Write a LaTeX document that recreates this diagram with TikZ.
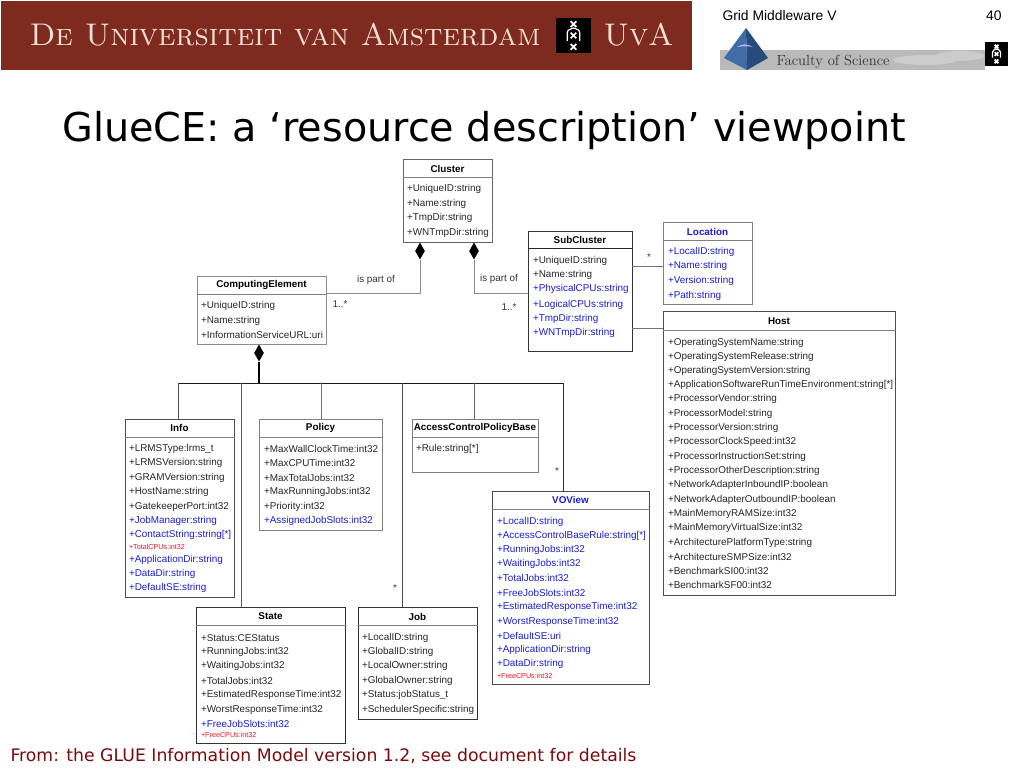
\documentclass[tikz,border=0pt]{standalone}
\usepackage{fontspec}
\usetikzlibrary{shapes.geometric}
\newfontfamily\umlfont{Liberation Sans}
\newfontfamily\slidefont{DejaVu Sans}
\definecolor{bannerred}{RGB}{127,42,31}
\definecolor{bannertext}{RGB}{243,224,212}
\definecolor{attrblue}{RGB}{28,28,205}
\definecolor{attrred}{RGB}{228,20,36}
\definecolor{footred}{RGB}{120,10,14}
\definecolor{pyramidleft}{RGB}{62,110,165}
\definecolor{pyramidright}{RGB}{40,75,125}
\tikzset{every picture/.style={line width=0.75pt}}
\tikzset{
  classbox/.style={draw=#1,fill=white,rectangle,inner sep=0pt},
  classbox/.default={black!70},
  classname/.style={inner sep=0.75pt,font=\umlfont\bfseries\fontsize{7.4}{8}\selectfont},
  attr/.style={anchor=west,inner sep=0.75pt,xshift=-1.1pt,yshift=-0.6pt,text=black!85,font=\umlfont\fontsize{7.43}{8}\selectfont},
  attrnew/.style={attr,text=attrblue},
  attrold/.style={attr,text=attrred,font=\umlfont\fontsize{5.4}{6}\selectfont},
  cardinal/.style={inner sep=0.75pt,text=black!80,font=\umlfont\fontsize{7.4}{8}\selectfont},
  partdiamond/.style={diamond,fill=black,draw=none,inner sep=0pt,minimum width=7.5pt,minimum height=13pt},
  uvashield/.pic={
    \draw [white,line width=1.3pt] (-3,-15) -- (3,-9) (3,-15) -- (-3,-9) ;
    \draw [white,line width=1.3pt] (-3,-3) -- (3,3) (3,-3) -- (-3,3) ;
    \draw [white,line width=1.3pt] (-3,9) -- (3,15) (3,9) -- (-3,15) ;
    \draw [white,line width=0.9pt] (-6.5,-6) -- (-6.5,3) .. controls (-6.5,6) and (-3,7) .. (0,8) .. controls (3,7) and (6.5,6) .. (6.5,3) -- (6.5,-6) ;
  }
}
\begin{document}
\begin{tikzpicture}[x=0.75pt,y=0.75pt,yscale=-1,xscale=1]
\useasboundingbox (0,0) rectangle (1024,768);

%Banner
\fill [bannerred] (1,1) rectangle (692,70);
\node (bannername) [anchor=base west,inner sep=0pt,text=bannertext,font=\scshape\fontsize{23.5}{26}\selectfont] at (29,45) {De Universiteit van Amsterdam};
\node (banneruva) [anchor=base west,inner sep=0pt,text=bannertext,font=\scshape\fontsize{23.5}{26}\selectfont] at (603,45) {UvA};
\fill [black] (556,18) rectangle (591,53);
\pic [scale=0.95] at (573.5,35.5) {uvashield};

%Faculty logo
\fill [black!27] (720,50) rectangle (985,70);
\fill [black!20] (925,60) ellipse (32 and 5);
\fill [black!20] (960,56) ellipse (24 and 5);
\fill [pyramidleft] (746,28) -- (724,58) -- (747,70) -- cycle;
\fill [pyramidright] (746,28) -- (768,58) -- (747,70) -- cycle;
\fill [white!70!blue] (737,47) .. controls (743,43) and (748,44) .. (753,47) .. controls (748,46) and (743,46) .. (737,47) -- cycle;
\node (facultyname) [anchor=base west,inner sep=0pt,text=black!80,font=\fontsize{11}{13}\selectfont] at (776,65) {Faculty of Science};
\fill [black] (985,42) rectangle (1008,66);
\pic [scale=0.62] at (996.5,54) {uvashield};

%Slide header
\node (coursename) [anchor=base west,inner sep=0pt,font=\umlfont\fontsize{10.4}{12}\selectfont] at (722,20) {Grid Middleware V};
\node (slidenumber) [anchor=base east,inner sep=0pt,font=\umlfont\fontsize{10.4}{12}\selectfont] at (1002,20) {40};
\node (slidetitle) [anchor=base west,inner sep=0pt,font=\slidefont\fontsize{29.8}{36}\selectfont] at (62,141) {GlueCE: a ‘resource description’ viewpoint};
\node (slidefoot) [anchor=base west,inner sep=0pt,text=footred,font=\slidefont\fontsize{12.95}{15}\selectfont] at (10,761) {From: the GLUE Information Model version 1.2, see document for details};

%Class boxes
\node (cluster) [classbox=black!60,minimum width=66.75pt,minimum height=62.25pt] at (447.5,200.5) {};
\node (compute) [classbox=black!45,minimum width=96.75pt,minimum height=51pt] at (261.5,310) {};
\node (subcluster) [classbox=black!80,minimum width=78pt,minimum height=90pt] at (580,291) {};
\node (location) [classbox=black!50,minimum width=66.75pt,minimum height=61.5pt] at (707.5,263) {};
\node (host) [classbox=black!70,minimum width=174pt,minimum height=213pt] at (779,453) {};
\node (info) [classbox=black!70,minimum width=81.75pt,minimum height=133.5pt] at (179.5,508) {};
\node (policy) [classbox=black!50,minimum width=92.25pt,minimum height=83.25pt] at (320.5,474.5) {};
\node (accesspolicy) [classbox=black!50,minimum width=94.5pt,minimum height=39.75pt] at (475,445.5) {};
\node (voview) [classbox=black!70,minimum width=117.75pt,minimum height=144.75pt] at (570.5,587.5) {};
\node (state) [classbox=black!80,minimum width=111.75pt,minimum height=102pt] at (270.5,675) {};
\node (job) [classbox=black!80,minimum width=89.25pt,minimum height=84pt] at (417.5,663) {};

%Header rules
\draw [black!50] (cluster.west |- 0,177) -- (cluster.east |- 0,177) ;
\draw [black!50] (compute.west |- 0,294) -- (compute.east |- 0,294) ;
\draw [black!85] (subcluster.west |- 0,248) -- (subcluster.east |- 0,248) ;
\draw [black!50] (location.west |- 0,240) -- (location.east |- 0,240) ;
\draw [black!50] (host.west |- 0,330) -- (host.east |- 0,330) ;
\draw [black!50] (info.west |- 0,437) -- (info.east |- 0,437) ;
\draw [black!50] (policy.west |- 0,437) -- (policy.east |- 0,437) ;
\draw [black!50] (accesspolicy.west |- 0,437) -- (accesspolicy.east |- 0,437) ;
\draw [black!50] (voview.west |- 0,509) -- (voview.east |- 0,509) ;
\draw [black!50] (state.west |- 0,625) -- (state.east |- 0,625) ;
\draw [black!50] (job.west |- 0,625) -- (job.east |- 0,625) ;

%Class names
\node (clustertitle) [classname] at (447.5,168.5) {Cluster};
\node (computetitle) [classname] at (261.5,285) {ComputingElement};
\node (subclustertitle) [classname] at (580,240) {SubCluster};
\node (locationtitle) [classname,text=attrblue] at (707.5,231.5) {Location};
\node (hosttitle) [classname] at (779,321) {Host};
\node (infotitle) [classname] at (179.5,428) {Info};
\node (policytitle) [classname] at (320.5,428) {Policy};
\node (accesspolicytitle) [classname] at (475,428) {AccessControlPolicyBase};
\node (voviewtitle) [classname,text=attrblue] at (570.5,500) {VOView};
\node (statetitle) [classname] at (270.5,616.5) {State};
\node (jobtitle) [classname] at (417.5,616.5) {Job};

%Cluster
\node (clustera) [attr] at (407,188) {+UniqueID:string};
\node (clusterb) [attr] at (407,203) {+Name:string};
\node (clusterc) [attr] at (407,217) {+TmpDir:string};
\node (clusterd) [attr] at (407,232) {+WNTmpDir:string};
%ComputingElement
\node (computea) [attr] at (201,305) {+UniqueID:string};
\node (computeb) [attr] at (201,320) {+Name:string};
\node (computec) [attr] at (201,334) {+InformationServiceURL:uri};
%SubCluster
\node (subclustera) [attr] at (533,260) {+UniqueID:string};
\node (subclusterb) [attr] at (533,274) {+Name:string};
\node (subclusterc) [attrnew] at (533,288.5) {+PhysicalCPUs:string};
\node (subclusterd) [attrnew] at (533,304) {+LogicalCPUs:string};
\node (subclustere) [attrnew] at (533,318) {+TmpDir:string};
\node (subclusterf) [attrnew] at (533,332) {+WNTmpDir:string};
%Location
\node (locationa) [attrnew] at (668,251) {+LocalID:string};
\node (locationb) [attrnew] at (668,265) {+Name:string};
\node (locationc) [attrnew] at (668,280) {+Version:string};
\node (locationd) [attrnew] at (668,295) {+Path:string};
%Host
\node (hosta) [attr] at (668,342) {+OperatingSystemName:string};
\node (hostb) [attr] at (668,356) {+OperatingSystemRelease:string};
\node (hostc) [attr] at (668,370) {+OperatingSystemVersion:string};
\node (hostd) [attr] at (668,384) {+ApplicationSoftwareRunTimeEnvironment:string[*]};
\node (hoste) [attr] at (668,398) {+ProcessorVendor:string};
\node (hostf) [attr] at (668,413) {+ProcessorModel:string};
\node (hostg) [attr] at (668,427) {+ProcessorVersion:string};
\node (hosth) [attr] at (668,441) {+ProcessorClockSpeed:int32};
\node (hosti) [attr] at (668,456) {+ProcessorInstructionSet:string};
\node (hostj) [attr] at (668,470) {+ProcessorOtherDescription:string};
\node (hostk) [attr] at (668,484) {+NetworkAdapterInboundIP:boolean};
\node (hostl) [attr] at (668,499) {+NetworkAdapterOutboundIP:boolean};
\node (hostm) [attr] at (668,513) {+MainMemoryRAMSize:int32};
\node (hostn) [attr] at (668,527) {+MainMemoryVirtualSize:int32};
\node (hosto) [attr] at (668,542) {+ArchitecturePlatformType:string};
\node (hostp) [attr] at (668,556) {+ArchitectureSMPSize:int32};
\node (hostq) [attr] at (668,570) {+BenchmarkSI00:int32};
\node (hostr) [attr] at (668,584) {+BenchmarkSF00:int32};
%Info
\node (infoa) [attr] at (129,448) {+LRMSType:lrms\_t};
\node (infob) [attr] at (129,462.5) {+LRMSVersion:string};
\node (infoc) [attr] at (129,477) {+GRAMVersion:string};
\node (infod) [attr] at (129,491) {+HostName:string};
\node (infoe) [attr] at (129,506) {+GatekeeperPort:int32};
\node (infof) [attrnew] at (129,520) {+JobManager:string};
\node (infog) [attrnew] at (129,534) {+ContactString:string[*]};
\node (infoh) [attrold] at (129,546.5) {+TotalCPUs:int32};
\node (infoi) [attrnew] at (129,559) {+ApplicationDir:string};
\node (infoj) [attrnew] at (129,573) {+DataDir:string};
\node (infok) [attrnew] at (129,587.5) {+DefaultSE:string};
%Policy
\node (policya) [attr] at (264,448) {+MaxWallClockTime:int32};
\node (policyb) [attr] at (264,462.5) {+MaxCPUTime:int32};
\node (policyc) [attr] at (264,477) {+MaxTotalJobs:int32};
\node (policyd) [attr] at (264,491) {+MaxRunningJobs:int32};
\node (policye) [attr] at (264,506) {+Priority:int32};
\node (policyf) [attrnew] at (264,520) {+AssignedJobSlots:int32};
%AccessControlPolicyBase
\node (accesspolicya) [attr] at (416,448) {+Rule:string[*]};
%VOView
\node (voviewa) [attrnew] at (497,521) {+LocalID:string};
\node (voviewb) [attrnew] at (497,535) {+AccessControlBaseRule:string[*]};
\node (voviewc) [attrnew] at (497,549) {+RunningJobs:int32};
\node (voviewd) [attrnew] at (497,563) {+WaitingJobs:int32};
\node (voviewe) [attrnew] at (497,577) {+TotalJobs:int32};
\node (voviewf) [attrnew] at (497,592) {+FreeJobSlots:int32};
\node (voviewg) [attrnew] at (497,606.5) {+EstimatedResponseTime:int32};
\node (voviewh) [attrnew] at (497,621) {+WorstResponseTime:int32};
\node (voviewi) [attrnew] at (497,635) {+DefaultSE:uri};
\node (voviewj) [attrnew] at (497,649) {+ApplicationDir:string};
\node (voviewk) [attrnew] at (497,663.5) {+DataDir:string};
\node (voviewl) [attrold] at (497,675.5) {+FreeCPUs:int32};
%State
\node (statea) [attr] at (201,637) {+Status:CEStatus};
\node (stateb) [attr] at (201,651) {+RunningJobs:int32};
\node (statec) [attr] at (201,665) {+WaitingJobs:int32};
\node (stated) [attr] at (201,680) {+TotalJobs:int32};
\node (statee) [attr] at (201,694) {+EstimatedResponseTime:int32};
\node (statef) [attr] at (201,709) {+WorstResponseTime:int32};
\node (stateg) [attrnew] at (201,723) {+FreeJobSlots:int32};
\node (stateh) [attrold] at (201,734) {+FreeCPUs:int32};
%Job
\node (joba) [attr] at (362,637) {+LocalID:string};
\node (jobb) [attr] at (362,651) {+GlobalID:string};
\node (jobc) [attr] at (362,665) {+LocalOwner:string};
\node (jobd) [attr] at (362,680) {+GlobalOwner:string};
\node (jobe) [attr] at (362,694) {+Status:jobStatus\_t};
\node (jobf) [attr] at (362,709) {+SchedulerSpecific:string};

%Composition diamonds
\node (clusterleft) [partdiamond] at (420,251) {};
\node (clusterright) [partdiamond] at (474,251) {};
\node (computepart) [partdiamond] at (259,353) {};

%Ports on the boxes and on the bus
\coordinate (computeport) at (326,293);
\coordinate (subclusterport) at (528,293);
\coordinate (locationport) at (632,266);
\coordinate (hostport) at (632,328);
\coordinate (busroot) at (259,383);
\coordinate (businfo) at (178,383);
\coordinate (busstate) at (241,383);
\coordinate (buspolicy) at (321,383);
\coordinate (busaccess) at (474,383);
\coordinate (busjob) at (402,383);
\coordinate (busvoview) at (563,383);

%Connectors
\draw [black!45] (clusterleft.south) |- (computeport) ;
\draw [black!45] (clusterright.south) |- (subclusterport) ;
\draw [black!55] (locationport) -- (locationport -| location.west) ;
\draw [black!55] (hostport) -- (hostport -| host.west) ;
\draw [line width=1.5pt] (computepart.south) -- (busroot) ;
\draw [black!90] (businfo) -- (busvoview) ;
\draw [black!70] (businfo) -- (businfo |- info.north) ;
\draw [black!65] (busstate) -- (busstate |- state.north) ;
\draw [black!55] (buspolicy) -- (buspolicy |- policy.north) ;
\draw [black!70] (busjob) -- (busjob |- job.north) ;
\draw [black!60] (busaccess) -- (busaccess |- accesspolicy.north) ;
\draw [black!80] (busvoview) -- (busvoview |- voview.north) ;

%Connector labels
\node (partleft) [cardinal] at (376,280) {is part of};
\node (partright) [cardinal] at (499,279) {is part of};
\node (manyleft) [cardinal] at (340,304) {1..*};
\node (manyright) [cardinal] at (509,307) {1..*};
\node (manylocation) [cardinal] at (649,257) {*};
\node (manyjob) [cardinal] at (395,588) {*};
\node (manyvoview) [cardinal] at (557,471) {*};

\end{tikzpicture}
\end{document}
